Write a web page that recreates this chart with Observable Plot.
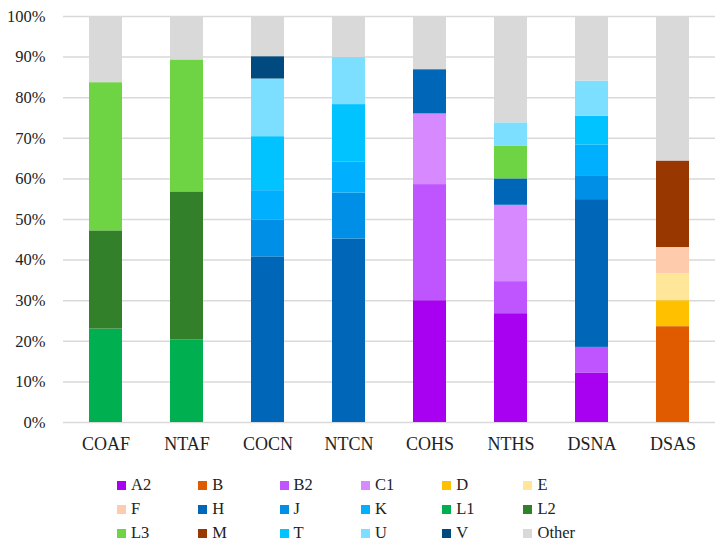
<!DOCTYPE html>
<html>
<head>
<meta charset="utf-8">
<script src="https://cdn.jsdelivr.net/npm/d3@7"></script>
<script src="https://cdn.jsdelivr.net/npm/@observablehq/plot@0.6"></script>
<style>
  body { margin: 0; background: #fff; }
  #legend {
    display: grid;
    grid-template-columns: repeat(6, 81.3px);
    grid-auto-rows: 24px;
    padding: 13px 0 0 117px;
    font-family: "Liberation Serif", "DejaVu Serif", serif;
    font-size: 16.5px;
    color: #222;
  }
  .item { display: flex; align-items: center; white-space: nowrap; }
  .sw { width: 9px; height: 9px; margin-right: 5px; flex: none; }
</style>
</head>
<body>
<div id="chart"></div>
<div id="legend"></div>
<script>
const categories = ["COAF", "NTAF", "COCN", "NTCN", "COHS", "NTHS", "DSNA", "DSAS"];
const seriesNames = ["A2", "B", "B2", "C1", "D", "E", "F", "H", "J", "K", "L1", "L2", "L3", "M", "T", "U", "V", "Other"];
const seriesColors = ["#a800f0", "#e05a00", "#bf55ff", "#d78aff", "#ffc000", "#ffe699", "#ffcbad", "#0066b8", "#008fe6", "#00b0ff", "#00b050", "#33802a", "#6fd443", "#993700", "#00c3ff", "#7ddfff", "#004a7f", "#d9d9d9"];

const A2    = [0, 0, 0, 0, 30.0, 26.8, 12.2, 0];
const B     = [0, 0, 0, 0, 0, 0, 0, 23.6];
const B2    = [0, 0, 0, 0, 28.6, 7.9, 6.3, 0];
const C1    = [0, 0, 0, 0, 17.4, 18.8, 0, 0];
const D     = [0, 0, 0, 0, 0, 0, 0, 6.4];
const E     = [0, 0, 0, 0, 0, 0, 0, 6.6];
const F     = [0, 0, 0, 0, 0, 0, 0, 6.5];
const H     = [0, 0, 40.8, 45.2, 10.9, 6.5, 36.4, 0];
const J     = [0, 0, 9.0, 11.3, 0, 0, 5.7, 0];
const K     = [0, 0, 7.3, 7.6, 0, 0, 7.7, 0];
const L1    = [23.0, 20.3, 0, 0, 0, 0, 0, 0];
const L2    = [24.2, 36.5, 0, 0, 0, 0, 0, 0];
const L3    = [36.5, 32.5, 0, 0, 0, 8.0, 0, 0];
const M     = [0, 0, 0, 0, 0, 0, 0, 21.3];
const T     = [0, 0, 13.3, 14.2, 0, 0, 7.1, 0];
const U     = [0, 0, 14.2, 11.6, 0, 5.8, 8.7, 0];
const V     = [0, 0, 5.5, 0, 0, 0, 0, 0];
const Other = [16.3, 10.7, 9.9, 10.1, 13.1, 26.2, 15.9, 35.6];

const yTicks = [0, 10, 20, 30, 40, 50, 60, 70, 80, 90, 100];

const seriesValues = [A2, B, B2, C1, D, E, F, H, J, K, L1, L2, L3, M, T, U, V, Other];
const data = [];
seriesNames.forEach((s, si) => {
  categories.forEach((c, ci) => {
    const v = seriesValues[si][ci];
    if (v > 0) data.push({category: c, series: s, value: v});
  });
});

const chart = Plot.plot({
  width: 722,
  height: 460,
  marginTop: 16,
  marginBottom: 38,
  marginLeft: 63,
  marginRight: 7,
  style: {fontFamily: "'Liberation Serif', 'DejaVu Serif', serif", fontSize: "16px", color: "#222", background: "#fff"},
  x: {domain: categories, paddingInner: 0.595, paddingOuter: 0.2975, label: null, tickSize: 0, tickPadding: 15},
  y: {domain: [0, 100], ticks: yTicks, tickFormat: d => d + "%", label: null, tickSize: 0, tickPadding: 18},
  color: {domain: seriesNames, range: seriesColors},
  marks: [
    Plot.ruleY(yTicks, {stroke: "#d9d9d9", strokeWidth: 1.5}),
    Plot.barY(data, Plot.stackY({order: seriesNames}, {x: "category", y: "value", fill: "series"})),
    Plot.axisX({tickSize: 0, tickPadding: 15, fontSize: 18, fill: "#222"}),
    Plot.axisY({ticks: yTicks, tickFormat: d => d + "%", tickSize: 0, tickPadding: 18, fontSize: 16.5, fill: "#222"})
  ]
});
document.getElementById("chart").appendChild(chart);

const legend = document.getElementById("legend");
seriesNames.forEach((s, i) => {
  const item = document.createElement("div");
  item.className = "item";
  const sw = document.createElement("span");
  sw.className = "sw";
  sw.style.background = seriesColors[i];
  const lab = document.createElement("span");
  lab.textContent = s;
  item.appendChild(sw);
  item.appendChild(lab);
  legend.appendChild(item);
});
</script>
</body>
</html>
